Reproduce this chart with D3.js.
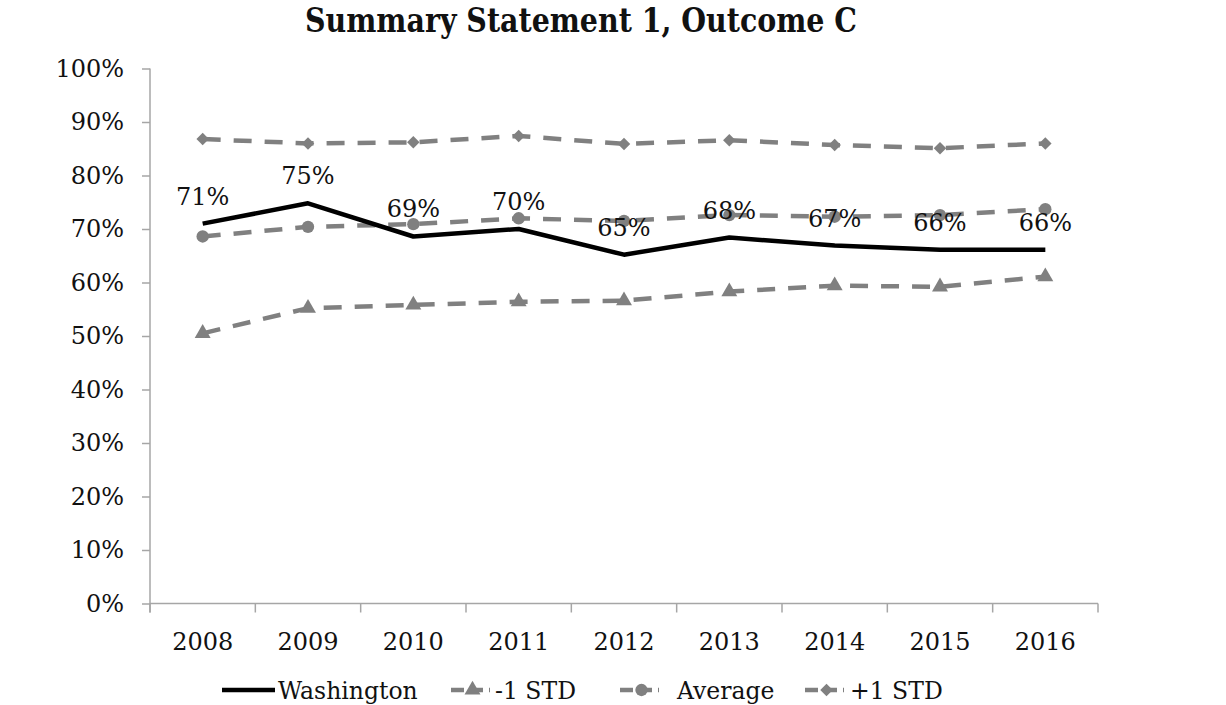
<!DOCTYPE html>
<html>
<head>
<meta charset="utf-8">
<script src="https://cdn.jsdelivr.net/npm/d3@7"></script>
<style>
  html, body { margin: 0; padding: 0; background: #fff; }
  svg { display: block; }
  text { font-family: "DejaVu Serif", "Liberation Serif", serif; fill: #111; }
</style>
</head>
<body>
<svg id="chart" width="1226" height="705"></svg>
<script>
const title = "Summary Statement 1, Outcome C";
const years = ["2008","2009","2010","2011","2012","2013","2014","2015","2016"];
const washington = [0.710, 0.748, 0.686, 0.700, 0.652, 0.684, 0.669, 0.661, 0.661];
const washingtonLabels = ["71%","75%","69%","70%","65%","68%","67%","66%","66%"];
const minus1Std = [0.505, 0.552, 0.558, 0.564, 0.566, 0.583, 0.594, 0.592, 0.611];
const average = [0.686, 0.704, 0.709, 0.720, 0.715, 0.726, 0.723, 0.726, 0.737];
const plus1Std = [0.868, 0.860, 0.862, 0.874, 0.859, 0.866, 0.857, 0.851, 0.860];
const yTicks = [0, 0.1, 0.2, 0.3, 0.4, 0.5, 0.6, 0.7, 0.8, 0.9, 1.0];
const legendNames = ["Washington", "-1 STD", "Average", "+1 STD"];

(function () {
const svg = d3.select("#chart");
const pLeft = 150, pRight = 1098, pTop = 68.5, pBottom = 603.5;
const x = d3.scaleBand().domain(years).range([pLeft, pRight]);
const y = d3.scaleLinear().domain([0, 1]).range([pBottom, pTop]);
const cx = d => x(d) + x.bandwidth() / 2;
const axisColor = "#a6a6a6";
const grey = "#808080";

// Title
svg.append("text").attr("x", 581).attr("y", 32).attr("text-anchor", "middle")
  .attr("font-size", 34).attr("font-weight", "bold")
  .style("font-family", '"DejaVu Serif Condensed", "DejaVu Serif", serif')
  .attr("textLength", 552).attr("lengthAdjust", "spacingAndGlyphs")
  .text(title);

// Y axis
const yAxis = d3.axisLeft(y).tickValues(yTicks).tickFormat(d3.format(".0%")).tickSize(8).tickPadding(18);
const gy = svg.append("g").attr("transform", `translate(${pLeft},0)`).call(yAxis);
gy.select(".domain").attr("stroke", axisColor).attr("stroke-width", 1.5).attr("d", `M0,${pTop}V${pBottom + 9}`);
gy.selectAll(".tick line").attr("stroke", axisColor).attr("stroke-width", 1.5);
gy.selectAll(".tick text").attr("font-size", 24).attr("fill", "#111")
  .style("font-family", '"DejaVu Serif", serif');

// X axis
const gx = svg.append("g").attr("transform", `translate(0,${pBottom})`);
gx.append("line").attr("x1", pLeft).attr("x2", pRight).attr("y1", 0).attr("y2", 0)
  .attr("stroke", axisColor).attr("stroke-width", 1.5);
const boundaries = years.map(d => x(d)).concat([pRight]);
gx.selectAll("line.tk").data(boundaries).join("line").attr("class", "tk")
  .attr("x1", d => d).attr("x2", d => d).attr("y1", 0).attr("y2", 9)
  .attr("stroke", axisColor).attr("stroke-width", 1.5);
gx.selectAll("text").data(years).join("text")
  .attr("x", d => cx(d)).attr("y", 46).attr("text-anchor", "middle")
  .attr("font-size", 24)
  .text(d => d);

// Lines
const line = d3.line().x((d, i) => cx(years[i])).y(d => y(d));
const dash = "18,13";
const series = [
  { name: legendNames[1], data: minus1Std, marker: "triangle", color: grey, dash: dash },
  { name: legendNames[2], data: average, marker: "circle", color: grey, dash: dash },
  { name: legendNames[3], data: plus1Std, marker: "diamond", color: grey, dash: dash },
];
series.forEach(s => {
  svg.append("path").datum(s.data).attr("d", line).attr("fill", "none")
    .attr("stroke", s.color).attr("stroke-width", 4.5).attr("stroke-dasharray", s.dash);
});
const symbolOf = m => m === "triangle" ? d3.symbolTriangle : m === "circle" ? d3.symbolCircle : d3.symbolSquare;
const sizeOf = m => m === "triangle" ? 110 : m === "circle" ? 120 : 78;
const rotOf = m => m === "diamond" ? 45 : 0;
series.forEach(s => {
  svg.append("g").selectAll("path").data(s.data).join("path")
    .attr("transform", (d, i) => `translate(${cx(years[i])},${y(d)}) rotate(${rotOf(s.marker)})`)
    .attr("d", d3.symbol().type(symbolOf(s.marker)).size(sizeOf(s.marker)))
    .attr("fill", s.color);
});
svg.append("path").datum(washington).attr("d", line).attr("fill", "none")
  .attr("stroke", "#000").attr("stroke-width", 4.5).attr("stroke-linejoin", "round");

// Data labels
svg.append("g").selectAll("text").data(washington).join("text")
  .attr("x", (d, i) => cx(years[i])).attr("y", d => y(d) - 19)
  .attr("text-anchor", "middle").attr("font-size", 24)
  .text((d, i) => washingtonLabels[i]);

// Legend
const ly = 690;
const legendItems = [
  { name: legendNames[0], x0: 222, x1: 275, tx: 278, color: "#000", marker: null, dash: null },
  { name: legendNames[1], x0: 451, x1: 490, tx: 495, color: grey, marker: "triangle", dash: "13,6" },
  { name: legendNames[2], x0: 620, x1: 659, tx: 677, color: grey, marker: "circle", dash: "13,6" },
  { name: legendNames[3], x0: 805, x1: 844, tx: 850, color: grey, marker: "diamond", dash: "13,6" },
];
const lg = svg.append("g");
legendItems.forEach(it => {
  lg.append("line").attr("x1", it.x0).attr("x2", it.x1).attr("y1", ly).attr("y2", ly)
    .attr("stroke", it.color).attr("stroke-width", 4.5)
    .attr("stroke-dasharray", it.dash);
  if (it.marker) {
    lg.append("path").attr("transform", `translate(${(it.x0 + it.x1) / 2 + 2},${ly}) rotate(${rotOf(it.marker)})`)
      .attr("d", d3.symbol().type(symbolOf(it.marker)).size(sizeOf(it.marker)))
      .attr("fill", it.color);
  }
  lg.append("text").attr("x", it.tx).attr("y", ly + 9).attr("font-size", 23.5)
    .text(it.name);
});
})();
</script>
</body>
</html>
